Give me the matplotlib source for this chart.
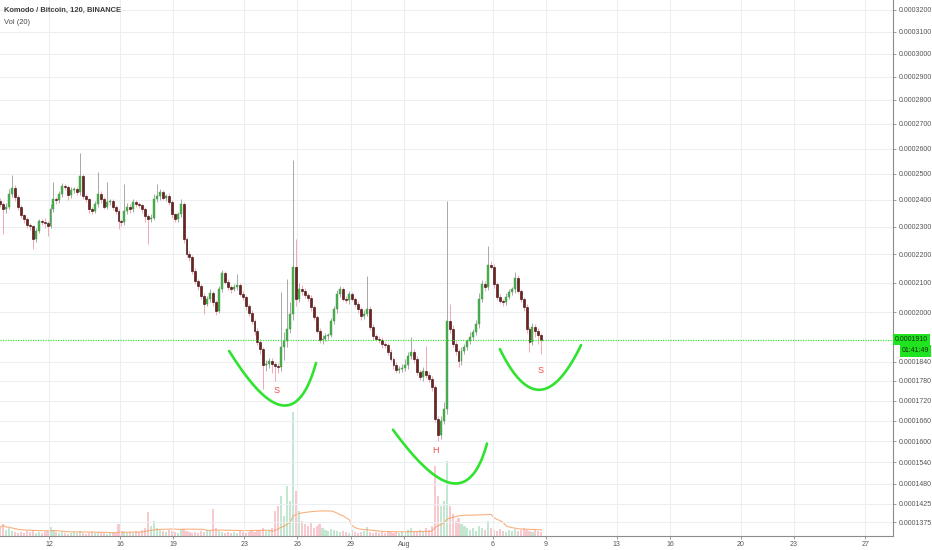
import numpy as np
import pandas as pd
import matplotlib
matplotlib.use("Agg")
import matplotlib.pyplot as plt
import matplotlib.dates as mdates
import matplotlib.transforms as mtransforms

plt.rcParams['font.family'] = ['Liberation Sans', 'DejaVu Sans']

# KMD/BTC, 4h candles (prices in units of 1e-7 BTC)
first_open = 2395
closes = [2383, 2364, 2372, 2421, 2444, 2410, 2372, 2342, 2327, 2305,
          2302, 2254, 2284, 2320, 2318, 2314, 2302, 2364, 2402, 2398,
          2421, 2452, 2448, 2417, 2436, 2440, 2430, 2490, 2413, 2402,
          2364, 2357, 2383, 2421, 2402, 2375, 2391, 2394, 2375, 2357,
          2320, 2316, 2357, 2375, 2364, 2391, 2383, 2380, 2364, 2338,
          2327, 2334, 2402, 2413, 2429, 2406, 2413, 2391, 2346, 2327,
          2346, 2383, 2254, 2201, 2190, 2141, 2106, 2089, 2055, 2028,
          2045, 2065, 2035, 2005, 2079, 2134, 2103, 2086, 2079, 2086,
          2092, 2062, 2052, 2021, 1998, 1971, 1939, 1904, 1880, 1830,
          1833, 1843, 1833, 1827, 1824, 1886, 1906, 1945, 1995, 2155,
          2045, 2079, 2072, 2058, 2048, 2018, 1985, 1939, 1910, 1913,
          1923, 1926, 1971, 2011, 2062, 2079, 2045, 2041, 2062, 2045,
          2028, 2011, 1988, 1995, 2011, 1952, 1923, 1913, 1910, 1896,
          1893, 1871, 1849, 1830, 1814, 1817, 1820, 1830, 1858, 1871,
          1849, 1808, 1792, 1811, 1799, 1786, 1761, 1665, 1619, 1659,
          1695, 1971, 1945, 1896, 1874, 1843, 1874, 1886, 1906, 1920,
          1936, 1962, 2045, 2096, 2086, 2162, 2155, 2096, 2052, 2038,
          2035, 2052, 2069, 2079, 2117, 2072, 2045, 2018, 1945, 1904,
          1952, 1939, 1925, 1910]
# wick lengths above / below the body
upper_wick = [12, 10, 15, 20, 53, 12, 8, 10, 6, 8, 10, 6, 12, 10, 8, 14, 6, 20, 65, 10,
              14, 12, 8, 10, 12, 8, 10, 94, 10, 8, 6, 10, 14, 88, 12, 8, 76, 10, 8, 6,
              8, 10, 102, 14, 8, 12, 10, 8, 6, 8, 10, 12, 20, 46, 14, 10, 8, 12, 8, 6,
              10, 19, 10, 8, 12, 8, 10, 6, 8, 10, 12, 14, 8, 6, 12, 10, 8, 10, 6, 12,
              38, 8, 10, 6, 8, 10, 6, 8, 10, 6, 12, 10, 8, 6, 10, 183, 30, 168, 40, 401,
              99, 20, 14, 10, 8, 10, 6, 8, 10, 12, 8, 6, 10, 12, 14, 10, 8, 12, 10, 8,
              6, 10, 8, 12, 113, 10, 8, 6, 10, 8, 6, 8, 10, 6, 8, 10, 12, 20, 14, 49,
              10, 8, 6, 12, 79, 10, 8, 6, 10, 14, 20, 423, 57, 14, 10, 8, 12, 10, 8, 14,
              10, 12, 20, 14, 10, 67, 14, 10, 8, 10, 6, 12, 10, 8, 20, 10, 8, 6, 10, 8,
              14, 10, 8, 6]
lower_wick = [10, 92, 12, 8, 10, 14, 10, 8, 12, 10, 14, 36, 10, 8, 12, 20, 37, 8, 10, 12,
              8, 10, 12, 16, 10, 8, 12, 10, 8, 10, 14, 10, 8, 10, 12, 10, 8, 10, 12, 10,
              29, 12, 8, 10, 12, 8, 10, 12, 14, 20, 91, 10, 8, 10, 12, 8, 10, 12, 14, 10,
              8, 10, 12, 10, 14, 10, 8, 12, 10, 33, 8, 10, 12, 14, 8, 10, 8, 10, 12, 8,
              10, 8, 10, 12, 10, 8, 12, 10, 14, 75, 20, 14, 30, 47, 20, 12, 40, 20, 14, 20,
              25, 10, 12, 8, 10, 12, 10, 8, 10, 12, 8, 10, 8, 10, 12, 10, 8, 10, 12, 8,
              10, 12, 14, 10, 8, 10, 12, 8, 10, 12, 8, 10, 8, 12, 10, 8, 10, 8, 12, 10,
              14, 10, 8, 12, 10, 8, 12, 10, 18, 12, 10, 14, 12, 10, 14, 20, 12, 10, 8, 10,
              12, 10, 14, 10, 12, 10, 8, 12, 10, 8, 12, 10, 8, 10, 12, 8, 10, 12, 14, 33,
              10, 20, 30, 45]
# volume, thousand KMD
volume = [36, 48, 24, 32, 20, 16, 12, 16, 12, 20, 16, 24, 12, 16, 12, 16, 20, 36, 24, 16,
          12, 16, 12, 8, 12, 16, 12, 20, 12, 8, 12, 16, 12, 16, 12, 12, 8, 12, 16, 12,
          48, 20, 16, 12, 16, 12, 20, 16, 24, 32, 96, 40, 60, 32, 24, 20, 16, 24, 20, 16,
          12, 24, 28, 20, 16, 12, 16, 12, 20, 16, 24, 20, 108, 32, 20, 16, 12, 16, 12, 16,
          12, 20, 16, 12, 16, 20, 16, 24, 20, 32, 20, 24, 32, 100, 120, 160, 80, 200, 140, 496,
          180, 100, 60, 48, 40, 56, 32, 40, 48, 32, 24, 20, 28, 24, 20, 16, 20, 16, 12, 24,
          16, 12, 16, 20, 36, 16, 12, 16, 12, 16, 12, 20, 16, 12, 16, 12, 16, 20, 24, 32,
          20, 16, 24, 20, 32, 24, 40, 280, 160, 120, 140, 300, 120, 88, 60, 72, 48, 40, 32, 24,
          32, 20, 40, 32, 24, 60, 32, 24, 20, 28, 20, 16, 24, 20, 28, 20, 24, 32, 24, 20,
          16, 24, 20, 16]

last_price = 1910
countdown = "01:41:49"

y_ticks = [3200, 3100, 3000, 2900, 2800, 2700, 2600, 2500, 2400, 2300, 2200, 2100,
           2000, 1840, 1780, 1720, 1660, 1600, 1540, 1480, 1425, 1375]
x_tick_dates = ['2018-07-12', '2018-07-16', '2018-07-19', '2018-07-23', '2018-07-26',
                '2018-07-29', '2018-08-01', '2018-08-06', '2018-08-09', '2018-08-13',
                '2018-08-16', '2018-08-20', '2018-08-23', '2018-08-27']
x_tick_labels = ['12', '16', '19', '23', '26', '29', 'Aug', '6', '9', '13', '16', '20', '23', '27']

# hand drawn head & shoulders cups: start, control, end
cups = [
    [('2018-07-22 03:40', 1874), ('2018-07-25 16:00', 1556), ('2018-07-27 01:10', 1836)],
    [('2018-07-31 09:20', 1633), ('2018-08-04 09:30', 1349), ('2018-08-05 16:30', 1593)],
    [('2018-08-06 10:00', 1880), ('2018-08-08 15:40', 1619), ('2018-08-10 23:50', 1893)],
]
cup_labels = [('S', '2018-07-24 20:00', 1749), ('H', '2018-08-02 19:30', 1573),
              ('S', '2018-08-08 17:30', 1811)]

unit = 1e-7
c = np.array(closes) * unit
o = np.concatenate([[first_open], closes[:-1]]) * unit
hi = np.maximum(o, c) + np.array(upper_wick) * unit
lo = np.minimum(o, c) - np.array(lower_wick) * unit
vol = np.array(volume, dtype=float)
times = pd.date_range('2018-07-09 06:00', periods=len(closes), freq='4h')
t = mdates.date2num(times.to_pydatetime())
up = c >= o

W, H = 932, 550
fig = plt.figure(figsize=(W / 100, H / 100), dpi=100)
rect = [0, 14 / H, 893 / W, 536 / H]
axv = fig.add_axes(rect, zorder=0)
ax = fig.add_axes(rect, zorder=1)
ax.patch.set_alpha(0)

off = 1e-4
ax.set_yscale('function', functions=(lambda p: np.log(p + off), lambda v: np.exp(v) - off))
ax.set_ylim(1.3395e-4, 3.2466e-4)
xlim = (mdates.datestr2num('2018-07-09 05:40'), mdates.datestr2num('2018-08-28 13:48'))
ax.set_xlim(*xlim)
axv.set_xlim(*xlim)

# volume pane
axv.bar(t, vol, width=0.12, color=np.where(up, '#c3e7d1', '#f7cad0'), linewidth=0)
axv.plot(t, pd.Series(vol).rolling(20, min_periods=1).mean(), color='#f6a36a', lw=0.8, alpha=0.85)
axv.set_ylim(0, vol.max() * 4.33)
axv.axis('off')

# grid
for yt in y_ticks:
    ax.axhline(yt * unit, color='#eceef2', lw=0.8, zorder=0)
for xd in x_tick_dates:
    ax.axvline(mdates.datestr2num(xd), color='#eceef2', lw=0.8, zorder=0)

# candles
ax.vlines(t, lo, hi, colors=np.where(up, '#a8a8a8', '#f2a9b2'), lw=0.7, zorder=2)
body = np.where(np.abs(c - o) < 2 * unit, 2 * unit, c - o)
ax.bar(t[up], body[up], bottom=o[up], width=0.11, color='#4caf50', edgecolor='#3f9a43',
       linewidth=0.3, zorder=3)
ax.bar(t[~up], body[~up], bottom=o[~up], width=0.11, color='#7a1d1d', edgecolor='#2b0a0a',
       linewidth=0.4, zorder=3)

# current price line
ax.axhline(last_price * unit, color='#3ee23e', lw=0.9, ls=(0, (1, 1)), zorder=4)

# head and shoulders drawing
s = np.linspace(0, 1, 60)[:, None]
for cup in cups:
    pts = np.array([[mdates.datestr2num(d), v * unit] for d, v in cup])
    curve = (1 - s) ** 2 * pts[0] + 2 * (1 - s) * s * pts[1] + s ** 2 * pts[2]
    ax.plot(curve[:, 0], curve[:, 1], color='#2fe32f', lw=1.9, solid_capstyle='round', zorder=5)
for txt, d, v in cup_labels:
    ax.text(mdates.datestr2num(d), v * unit, txt, color='#ec4b4b', fontsize=6.5,
            ha='center', va='center', zorder=5)

# axes styling
ax.yaxis.tick_right()
ax.set_yticks([v * unit for v in y_ticks])
ax.set_yticklabels(['%.7f' % (v * unit) for v in y_ticks])
ax.set_xticks([mdates.datestr2num(d) for d in x_tick_dates])
ax.set_xticklabels(x_tick_labels)
ax.tick_params(axis='both', labelsize=5, colors='#8a8a8a', labelcolor='#555555',
               length=2.5, width=0.6)
ax.tick_params(axis='y', pad=1.5)
ax.tick_params(axis='x', pad=1.0)
for side in ['left', 'top']:
    ax.spines[side].set_visible(False)
for side in ['right', 'bottom']:
    ax.spines[side].set_color('#8c8c8c')
    ax.spines[side].set_linewidth(0.8)
ax.minorticks_off()

# last price tag and countdown
tr = mtransforms.blended_transform_factory(fig.transFigure, ax.transData)
ax.text(895 / W, last_price * unit, '%.7f' % (last_price * unit), transform=tr, fontsize=5,
        color='#123312', ha='left', va='center', zorder=6, clip_on=False,
        bbox=dict(boxstyle='square,pad=0.3', fc='#1fe41f', ec='none'))
ax.annotate(countdown, xy=(929 / W, last_price * unit), xycoords=tr, xytext=(0, -8),
            textcoords='offset points', fontsize=5, color='#123312', ha='right', va='center',
            zorder=6, annotation_clip=False,
            bbox=dict(boxstyle='square,pad=0.3', fc='#1fe41f', ec='none'))

fig.text(4 / W, 1 - 10 / H, 'Komodo / Bitcoin, 120, BINANCE', fontsize=5.4, weight='bold',
         color='#3c3c3c', va='center')
fig.text(4 / W, 1 - 23 / H, 'Vol (20)', fontsize=5.4, color='#4a4a4a', va='center')

fig.savefig('out.png', dpi=100, facecolor='white')
